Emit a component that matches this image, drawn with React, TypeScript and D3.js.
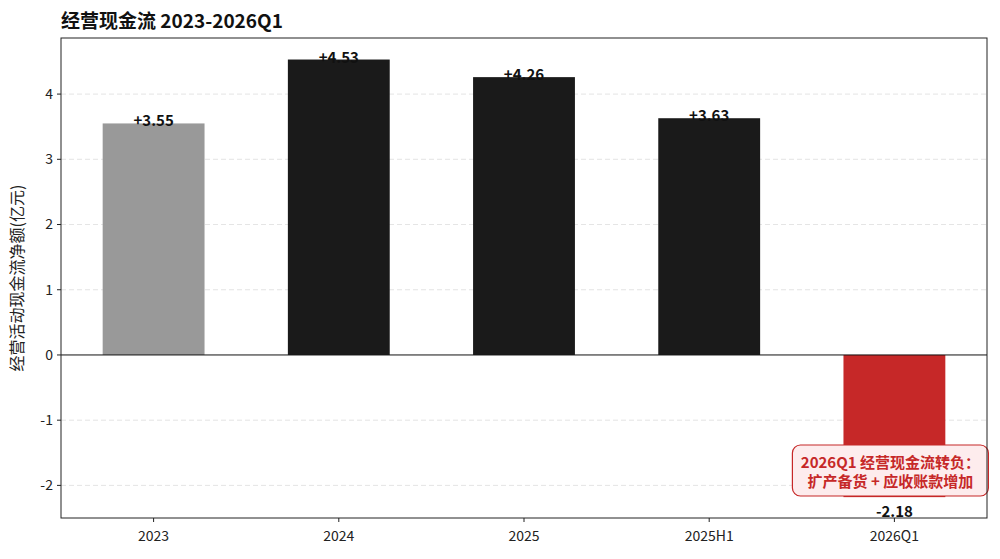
import React from "react";
import * as d3 from "d3";

const categories = ["2023", "2024", "2025", "2025H1", "2026Q1"];
const values = [3.55, 4.53, 4.26, 3.63, -2.18];
const barColors = ["#999999", "#1a1a1a", "#1a1a1a", "#1a1a1a", "#c62828"];
const yTicks = [-2, -1, 0, 1, 2, 3, 4];
const noteLines = ["2026Q1 经营现金流转负：", "扩产备货 + 应收账款增加"];

const FONT = "'Noto Sans CJK SC', 'Noto Sans', sans-serif";

const App: React.FC = () => {
  const width = 1000;
  const height = 559;
  const margin = { top: 38, right: 13, bottom: 41, left: 61 };

  const x = d3
    .scaleBand<string>()
    .domain(categories)
    .range([margin.left, width - margin.right])
    .paddingInner(0.45)
    .paddingOuter(0.225);

  const y = d3
    .scaleLinear()
    .domain([-2.5, 4.86])
    .range([height - margin.bottom, margin.top]);

  const cx = (c: string) => (x(c) ?? 0) + x.bandwidth() / 2;
  const last = categories[categories.length - 1];

  return (
    <svg
      width={width}
      height={height}
      style={{ position: "absolute", left: 0, top: 0, fontFamily: FONT }}
    >
      <rect width={width} height={height} fill="#fff" />

      {/* title */}
      <text x={margin.left} y={28} fontSize={19} fontWeight="bold" fill="#111">
        经营现金流 2023-2026Q1
      </text>

      {/* grid */}
      {yTicks
        .filter((t) => t !== 0)
        .map((t) => (
          <line
            key={t}
            x1={margin.left}
            x2={width - margin.right}
            y1={y(t)}
            y2={y(t)}
            stroke="#dddddd"
            strokeDasharray="5,3"
            strokeWidth={0.8}
          />
        ))}

      {/* bars */}
      {categories.map((c, i) => (
        <rect
          key={c}
          x={x(c)}
          width={x.bandwidth()}
          y={y(Math.max(0, values[i]))}
          height={Math.abs(y(values[i]) - y(0))}
          fill={barColors[i]}
        />
      ))}

      {/* zero line */}
      <line
        x1={margin.left}
        x2={width - margin.right}
        y1={y(0)}
        y2={y(0)}
        stroke="#111"
        strokeWidth={1}
      />

      {/* value labels */}
      {categories.map((c, i) => (
        <text
          key={c}
          x={cx(c)}
          y={values[i] >= 0 ? y(values[i]) + 3 : y(values[i]) + 20}
          textAnchor="middle"
          fontSize={15}
          fontWeight="bold"
          fill="#111"
        >
          {values[i] >= 0 ? `+${values[i].toFixed(2)}` : values[i].toFixed(2)}
        </text>
      ))}

      {/* annotation */}
      <g>
        <rect
          x={cx(last) - 102}
          y={445}
          width={196}
          height={51}
          rx={8}
          fill="#fdeced"
          stroke="#c62828"
          strokeWidth={1.2}
        />
        {noteLines.map((l, i) => (
          <text
            key={l}
            x={cx(last) - 4}
            y={468 + i * 19}
            textAnchor="middle"
            fontSize={15}
            fontWeight="bold"
            fill="#c62828"
          >
            {l}
          </text>
        ))}
      </g>

      {/* frame */}
      <rect
        x={margin.left}
        y={margin.top}
        width={width - margin.left - margin.right}
        height={height - margin.top - margin.bottom}
        fill="none"
        stroke="#222"
        strokeWidth={1}
      />

      {/* y axis ticks */}
      {yTicks.map((t) => (
        <g key={t}>
          <line x1={margin.left - 4} x2={margin.left} y1={y(t)} y2={y(t)} stroke="#222" />
          <text
            x={margin.left - 8}
            y={y(t)}
            dy="0.35em"
            textAnchor="end"
            fontSize={14}
            fill="#222"
          >
            {t}
          </text>
        </g>
      ))}

      {/* x axis ticks */}
      {categories.map((c) => (
        <g key={c}>
          <line
            x1={cx(c)}
            x2={cx(c)}
            y1={height - margin.bottom}
            y2={height - margin.bottom + 4}
            stroke="#222"
          />
          <text
            x={cx(c)}
            y={height - margin.bottom + 23}
            textAnchor="middle"
            fontSize={14}
            fill="#222"
          >
            {c}
          </text>
        </g>
      ))}

      {/* y label */}
      <text
        transform={`translate(23,${(margin.top + height - margin.bottom) / 2}) rotate(-90)`}
        textAnchor="middle"
        fontSize={16}
        fill="#222"
      >
        经营活动现金流净额(亿元)
      </text>
    </svg>
  );
};

export default App;
